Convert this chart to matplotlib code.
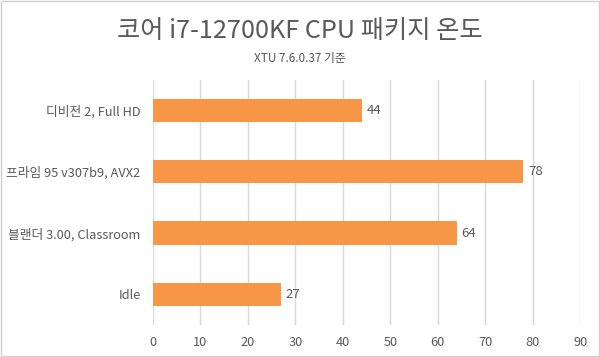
import matplotlib
matplotlib.use("Agg")
import matplotlib.pyplot as plt
from matplotlib.patches import Rectangle

plt.rcParams['font.family'] = ['Noto Sans CJK KR', 'DejaVu Sans']

categories = ["디비전 2, Full HD", "프라임 95 v307b9, AVX2", "블랜더 3.00, Classroom", "Idle"]
values = [44, 78, 64, 27]
xticks = [0, 10, 20, 30, 40, 50, 60, 70, 80, 90]
title = "코어 i7-12700KF CPU 패키지 온도"
subtitle = "XTU 7.6.0.37 기준"

text_color = "#595959"
bar_color = "#F79646"
grid_color = "#D9D9D9"

fig = plt.figure(figsize=(6, 3.57), dpi=100)
ax = fig.add_axes([0.255, 0.090, 0.712, 0.686])

ypos = list(range(len(categories)))
ax.barh(ypos, values, height=0.38, color=bar_color, zorder=3)
for y, v in zip(ypos, values):
    ax.text(v + 1.0, y, str(v), va='center', ha='left', fontsize=9.5, color=text_color)

ax.set_ylim(len(categories) - 0.5, -0.5)
ax.set_xlim(0, 90)
ax.set_yticks(ypos)
ax.set_yticklabels(categories, fontsize=9.2, color=text_color)
ax.set_xticks(xticks)
ax.set_xticklabels([str(t) for t in xticks], fontsize=9.2, color=text_color)
ax.tick_params(axis='y', length=0, pad=9)
ax.tick_params(axis='x', length=0, pad=8)
ax.grid(axis='x', color=grid_color, linewidth=1, zorder=0)
for s in ax.spines.values():
    s.set_visible(False)

fig.text(0.5, 0.913, title, ha='center', va='center', fontsize=18.2,
         color=text_color, fontweight='light')
fig.text(0.5, 0.836, subtitle, ha='center', va='center', fontsize=8.5, color=text_color)

fig.patches.append(Rectangle((0.001, 0.002), 0.997, 0.995, transform=fig.transFigure,
                             fill=False, edgecolor="#D0D0D0", linewidth=1))

fig.savefig("out.png", dpi=100)
